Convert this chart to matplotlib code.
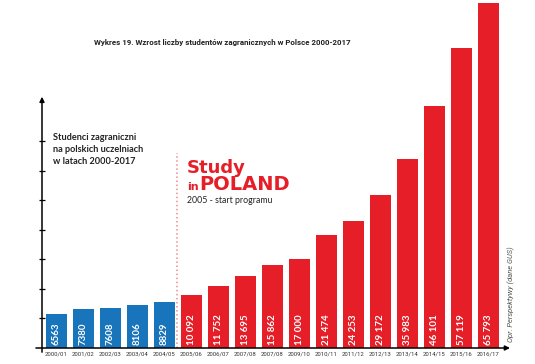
import matplotlib
matplotlib.use("Agg")
import matplotlib.pyplot as plt

# data
years = ["2000/01", "2001/02", "2002/03", "2003/04", "2004/05", "2005/06",
         "2006/07", "2007/08", "2007/08", "2009/10", "2010/11", "2011/12",
         "2012/13", "2013/14", "2014/15", "2015/16", "2016/17"]
students = [6563, 7380, 7608, 8106, 8829, 10092, 11752, 13695, 15862,
            17000, 21474, 24253, 29172, 35983, 46101, 57119, 65793]
value_labels = ["6563", "7380", "7608", "8106", "8829", "10 092", "11 752",
                "13 695", "15 862", "17 000", "21 474", "24 253", "29 172",
                "35 983", "46 101", "57 119", "65 793"]
program_start = 5  # index of 2005/06

BLUE = "#1874bb"
RED = "#e61e28"

W, H = 535, 364
fig = plt.figure(figsize=(W / 100, H / 100), dpi=100)

def fx(px):
    return px / W

def fy(py):
    return 1 - py / H

# axes: y axis at x=42px, baseline at y=348px
ax = fig.add_axes([fx(42), fy(348), fx(510) - fx(42), fy(0) - fy(348)])
ax.set_xlim(-0.537, 16.8)
ax.set_ylim(0, 66365)

colors = [BLUE if i < program_start else RED for i in range(len(students))]
xs = list(range(len(students)))
ax.bar(xs, students, width=0.76, color=colors, zorder=2)

for x, lab in zip(xs, value_labels):
    ax.text(x, 500, lab, rotation=90, ha="center", va="bottom", color="white",
            fontsize=7, fontweight="bold", family=["Lato", "DejaVu Sans"], zorder=3)

for s in ax.spines.values():
    s.set_visible(False)

ax.set_xticks(xs)
ax.set_xticklabels(years, fontsize=4.3, color="#333333",
                   family=["Roboto", "DejaVu Sans"])
ax.tick_params(axis="x", length=0, pad=2.5)

ax.set_yticks([5630 * k for k in range(1, 8)])
ax.set_yticklabels([])
ax.tick_params(axis="y", direction="inout", length=5, width=0.9, color="black")

# axis lines with arrows
ax.annotate("", xy=(1.0, 0), xytext=(-0.013, 0), xycoords="axes fraction",
            arrowprops=dict(arrowstyle="-|>", color="black", lw=1.1,
                            mutation_scale=7, shrinkA=0, shrinkB=0),
            annotation_clip=False, zorder=4)
ax.annotate("", xy=(0, 0.722), xytext=(0, -0.012), xycoords="axes fraction",
            arrowprops=dict(arrowstyle="-|>", color="black", lw=1.1,
                            mutation_scale=7, shrinkA=0, shrinkB=0),
            annotation_clip=False, zorder=4)

# dotted line at programme start
ax.plot([program_start - 0.55, program_start - 0.55], [0, 37200], linestyle=":",
        color="#f08a8a", lw=1.1, zorder=1)

fig.text(fx(222), fy(42), "Wykres 19. Wzrost liczby studentów zagranicznych w Polsce 2000-2017",
         ha="center", va="center", fontsize=5.7, fontweight="bold", color="#222222",
         family=["Roboto", "DejaVu Sans"])

fig.text(fx(53), fy(133), "Studenci zagraniczni\nna polskich uczelniach\nw latach 2000-2017",
         ha="left", va="top", fontsize=6.6, fontweight="bold", color="#222222",
         linespacing=1.4, family=["Lato", "DejaVu Sans"])

fig.text(fx(187), fy(173), "Study", ha="left", va="baseline", fontsize=13,
         fontweight="bold", color=RED, family=["DejaVu Sans"])
fig.text(fx(187), fy(190), "in", ha="left", va="baseline", fontsize=8,
         fontweight="bold", color=RED, family=["DejaVu Sans"])
fig.text(fx(199), fy(190), "POLAND", ha="left", va="baseline", fontsize=14,
         fontweight="heavy", color=RED, family=["DejaVu Sans"])
fig.text(fx(187), fy(200), "2005 - start programu", ha="left", va="center",
         fontsize=6.3, color="#222222", family=["Lato", "DejaVu Sans"])

fig.text(fx(511), fy(294), "Opr. Perspektywy (dane GUS)", rotation=90,
         ha="center", va="center", fontsize=5.4, style="italic", color="#555555",
         family=["Roboto", "DejaVu Sans"])

fig.savefig("out.png", dpi=100)
